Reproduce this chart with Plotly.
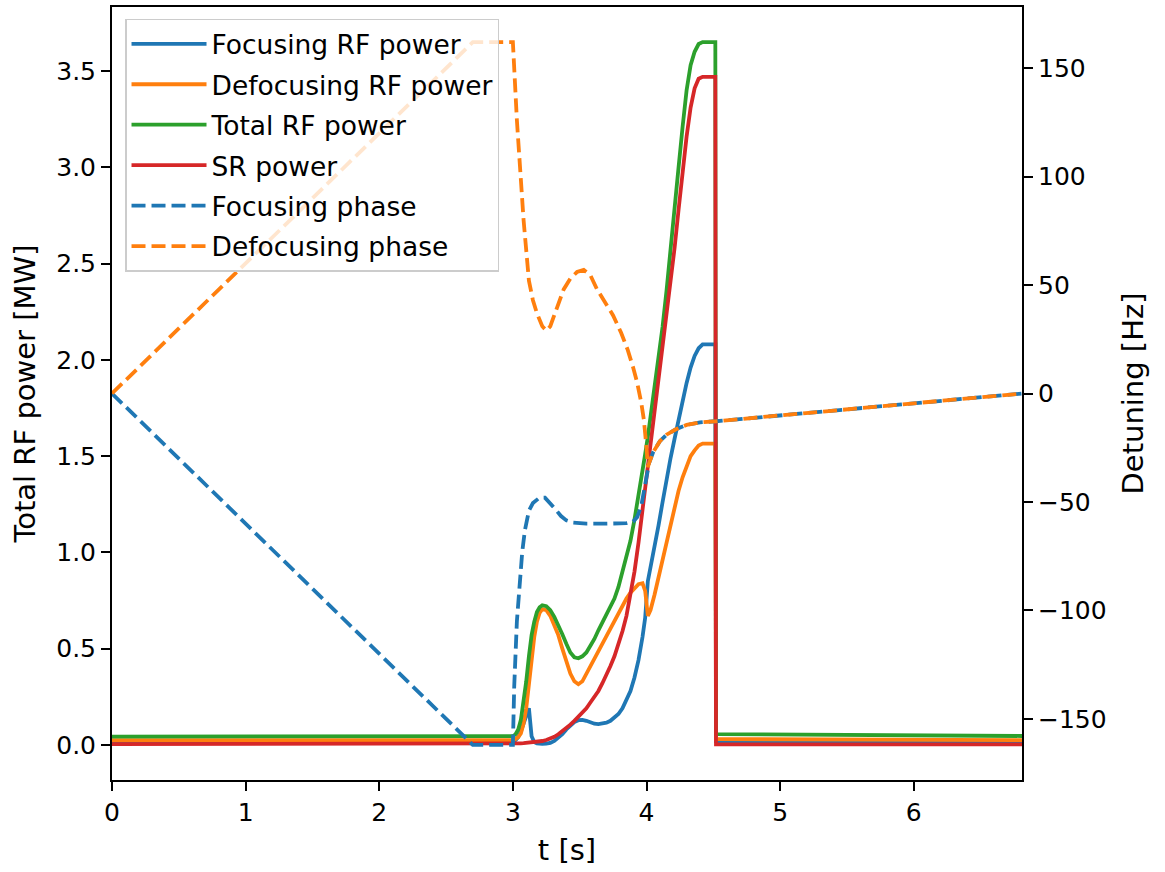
import plotly.graph_objects as go

# ---------------- data ----------------
T_POWER = [0.0, 2.98, 3.00, 3.02, 3.04, 3.06, 3.08, 3.10, 3.12, 3.14,
           3.16, 3.18, 3.20, 3.22, 3.25, 3.28, 3.31, 3.34, 3.37, 3.40,
           3.43, 3.46, 3.49, 3.52, 3.55, 3.58, 3.61, 3.64, 3.67, 3.70,
           3.73, 3.76, 3.79, 3.82, 3.85, 3.88, 3.91, 3.94, 3.97, 3.99,
           4.01, 4.03, 4.06, 4.09, 4.12, 4.15, 4.18, 4.21, 4.24, 4.27,
           4.30, 4.33, 4.36, 4.39, 4.42, 4.46, 4.515, 4.52, 4.53, 6.81]

FOCUSING_RF = [0.020, 0.020, 0.020, 0.025, 0.040, 0.070, 0.110, 0.160, 0.190, 0.045,
               0.015, 0.008, 0.005, 0.005, 0.006, 0.010, 0.020, 0.035, 0.055, 0.080,
               0.100, 0.118, 0.128, 0.130, 0.125, 0.115, 0.110, 0.108, 0.110, 0.115,
               0.125, 0.140, 0.160, 0.190, 0.230, 0.280, 0.350, 0.440, 0.560, 0.660,
               0.850, 0.920, 1.020, 1.140, 1.260, 1.380, 1.490, 1.590, 1.690, 1.790,
               1.880, 1.960, 2.020, 2.060, 2.080, 2.080, 2.080, 0.020, 0.020, 0.020]

DEFOCUSING_RF = [0.024, 0.024, 0.025, 0.030, 0.040, 0.060, 0.110, 0.190, 0.310, 0.450,
                 0.560, 0.640, 0.685, 0.705, 0.700, 0.670, 0.625, 0.570, 0.500, 0.430,
                 0.370, 0.330, 0.315, 0.330, 0.370, 0.410, 0.450, 0.490, 0.530, 0.565,
                 0.600, 0.640, 0.680, 0.720, 0.760, 0.790, 0.815, 0.835, 0.840, 0.800,
                 0.670, 0.700, 0.780, 0.870, 0.970, 1.060, 1.150, 1.240, 1.320, 1.390,
                 1.450, 1.500, 1.530, 1.555, 1.565, 1.565, 1.565, 0.030, 0.030, 0.025]

TOTAL_RF = [0.043, 0.043, 0.045, 0.055, 0.080, 0.130, 0.220, 0.330, 0.460, 0.570,
            0.640, 0.690, 0.715, 0.725, 0.720, 0.700, 0.665, 0.625, 0.575, 0.525,
            0.480, 0.455, 0.450, 0.460, 0.480, 0.515, 0.550, 0.595, 0.635, 0.670,
            0.710, 0.760, 0.820, 0.900, 0.980, 1.060, 1.170, 1.290, 1.420, 1.510,
            1.600, 1.700, 1.850, 2.000, 2.170, 2.360, 2.560, 2.780, 3.000, 3.210,
            3.400, 3.530, 3.600, 3.640, 3.650, 3.650, 3.650, 0.056, 0.056, 0.046]

SR_POWER = [0.004, 0.004, 0.005, 0.006, 0.007, 0.008, 0.009, 0.010, 0.011, 0.012,
            0.013, 0.015, 0.017, 0.020, 0.025, 0.032, 0.042, 0.055, 0.070, 0.088,
            0.105, 0.125, 0.145, 0.165, 0.190, 0.220, 0.250, 0.280, 0.320, 0.360,
            0.410, 0.460, 0.520, 0.590, 0.670, 0.780, 0.900, 1.050, 1.220, 1.340,
            1.450, 1.560, 1.720, 1.880, 2.050, 2.220, 2.400, 2.580, 2.780, 2.980,
            3.160, 3.310, 3.410, 3.460, 3.470, 3.470, 3.470, 0.003, 0.003, 0.003]

T_FOC_PHASE = [0.0, 2.70, 3.00, 3.01, 3.03, 3.05, 3.07, 3.09, 3.12, 3.15,
               3.20, 3.24, 3.28, 3.32, 3.36, 3.40, 3.45, 3.55, 3.70, 3.85,
               3.90, 3.93, 3.96, 3.98, 4.00, 4.02, 4.05, 4.10, 4.15, 4.22,
               4.30, 4.40, 4.52, 6.81]
FOC_PHASE = [0.0, -162.0, -162.0, -135.0, -105.0, -88.0, -73.0, -63.0, -54.0, -50.5,
             -48.0, -48.0, -50.5, -53.5, -56.5, -58.5, -59.5, -60.0, -60.0, -59.8,
             -59.0, -57.0, -52.0, -46.0, -39.0, -32.0, -27.0, -22.0, -19.0, -16.5,
             -14.5, -13.3, -12.8, 0.0]

T_DEF_PHASE = [0.0, 2.70, 3.00, 3.03, 3.08, 3.12, 3.15, 3.18, 3.22, 3.25,
               3.28, 3.33, 3.38, 3.43, 3.48, 3.53, 3.58, 3.63, 3.69, 3.75,
               3.81, 3.86, 3.90, 3.93, 3.96, 3.98, 4.00, 4.01, 4.02, 4.05,
               4.10, 4.15, 4.22, 4.30, 4.40, 4.52, 6.81]
DEF_PHASE = [0.0, 162.0, 162.0, 126.0, 80.0, 52.0, 43.0, 37.0, 31.0, 29.0,
             31.0, 40.0, 48.0, 53.0, 56.0, 57.0, 54.5, 48.0, 42.0, 36.0,
             28.0, 20.0, 12.0, 5.0, -4.0, -12.0, -25.0, -34.0, -32.0, -27.0,
             -22.0, -19.0, -16.5, -14.5, -13.3, -12.8, 0.0]

X_TICKS = [0, 1, 2, 3, 4, 5, 6]
Y_TICKS = [0.0, 0.5, 1.0, 1.5, 2.0, 2.5, 3.0, 3.5]
Y2_TICKS = [-150, -100, -50, 0, 50, 100, 150]

BLUE, ORANGE, GREEN, RED = "#1f77b4", "#ff7f0e", "#2ca02c", "#d62728"

for arr in (FOCUSING_RF, DEFOCUSING_RF, TOTAL_RF, SR_POWER):
    assert len(arr) == len(T_POWER)
assert len(FOC_PHASE) == len(T_FOC_PHASE)
assert len(DEF_PHASE) == len(T_DEF_PHASE)

LW = 3.8
DASH = "14px,6px"

fig = go.Figure()
series = [
    ("Focusing RF power", T_POWER, FOCUSING_RF, BLUE, "solid", "y"),
    ("Defocusing RF power", T_POWER, DEFOCUSING_RF, ORANGE, "solid", "y"),
    ("Total RF power", T_POWER, TOTAL_RF, GREEN, "solid", "y"),
    ("SR power", T_POWER, SR_POWER, RED, "solid", "y"),
    ("Focusing phase", T_FOC_PHASE, FOC_PHASE, BLUE, DASH, "y2"),
    ("Defocusing phase", T_DEF_PHASE, DEF_PHASE, ORANGE, DASH, "y2"),
]
for i, (name, x, y, c, dash, ax) in enumerate(series):
    fig.add_trace(go.Scatter(x=x, y=y, name=name, mode="lines", yaxis=ax,
                             legendgroup=f"g{i}",
                             line=dict(color=c, width=LW, dash=dash)))

axis_common = dict(showline=True, linecolor="black", linewidth=2, ticks="outside",
                   ticklen=9, tickwidth=2, tickcolor="black", showgrid=False,
                   zeroline=False, tickfont=dict(size=25, color="black"))
TITLE_FONT = dict(size=29, color="black")

fig.update_layout(
    width=1165, height=872,
    margin=dict(l=112, r=143, t=7, b=92, autoexpand=False),
    plot_bgcolor="white", paper_bgcolor="white",
    font=dict(family="DejaVu Sans", size=25, color="black"),
    xaxis=dict(range=[0, 6.81], tickvals=X_TICKS, mirror=True,
               title=dict(text="t [s]", standoff=14, font=TITLE_FONT), **axis_common),
    yaxis=dict(range=[-0.1825, 3.8325], tickvals=Y_TICKS, tickformat=".1f",
               title=dict(text="Total RF power [MW]", standoff=12, font=TITLE_FONT),
               **axis_common),
    yaxis2=dict(range=[-178.2, 178.2], tickvals=Y2_TICKS, overlaying="y", side="right",
                title=dict(text="Detuning [Hz]", standoff=17, font=TITLE_FONT),
                **axis_common),
    legend=dict(x=0.0143, y=0.985, xanchor="left", yanchor="top",
                bgcolor="rgba(255,255,255,0.8)", bordercolor="#cccccc", borderwidth=1.5,
                font=dict(size=26.5, color="black"), itemwidth=75, tracegroupgap=3),
    showlegend=True,
)

fig.write_html("out.html")
